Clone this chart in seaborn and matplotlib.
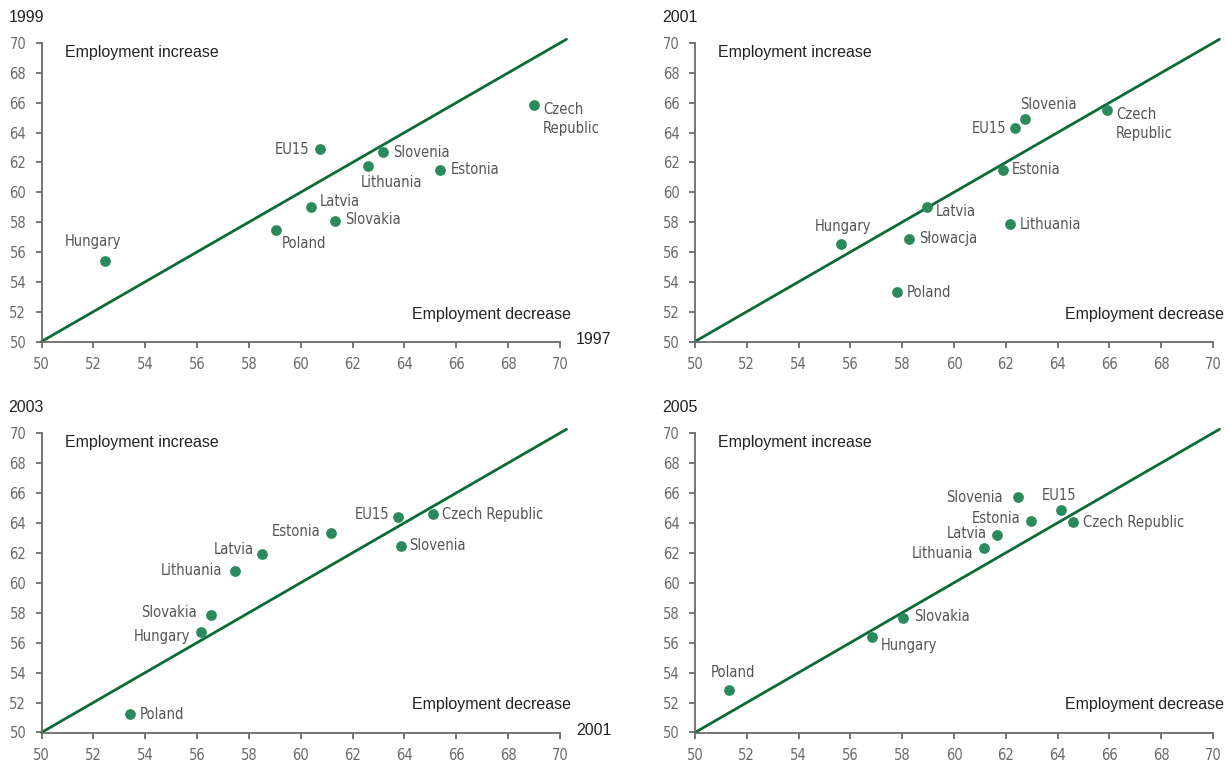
import numpy as np
import pandas as pd
import matplotlib
matplotlib.use('Agg')
import matplotlib.pyplot as plt
import seaborn as sns

# --- data ---
countries_99 = ['Hungary', 'Poland', 'Latvia', 'Slovakia', 'EU15', 'Lithuania', 'Slovenia', 'Estonia', 'Czech\nRepublic']
x_1997 = [52.46, 59.05, 60.38, 61.33, 60.73, 62.60, 63.16, 65.39, 68.99]
y_1999 = [55.42, 57.49, 59.00, 58.08, 62.87, 61.79, 62.69, 61.52, 65.84]

countries_01 = ['Hungary', 'Poland', 'Słowacja', 'Latvia', 'Estonia', 'Lithuania', 'EU15', 'Slovenia', 'Czech\nRepublic']
x_1999 = [55.63, 57.81, 58.26, 58.96, 61.88, 62.17, 62.36, 62.73, 65.90]
y_2001 = [56.52, 53.31, 56.88, 59.02, 61.50, 57.85, 64.33, 64.89, 65.50]

countries_03 = ['Poland', 'Hungary', 'Slovakia', 'Lithuania', 'Latvia', 'Estonia', 'EU15', 'Slovenia', 'Czech Republic']
x_2001 = [53.42, 56.15, 56.53, 57.48, 58.52, 61.15, 63.77, 63.85, 65.11]
y_2003 = [51.21, 56.72, 57.87, 60.81, 61.91, 63.30, 64.40, 62.47, 64.58]

countries_05 = ['Poland', 'Hungary', 'Slovakia', 'Lithuania', 'Latvia', 'Estonia', 'Slovenia', 'EU15', 'Czech Republic']
x_2003 = [51.31, 56.82, 58.02, 61.16, 61.65, 62.97, 62.48, 64.13, 64.60]
y_2005 = [52.85, 56.40, 57.66, 62.31, 63.21, 64.13, 65.71, 64.83, 64.07]

ticks = [50, 52, 54, 56, 58, 60, 62, 64, 66, 68, 70]
diag = [50, 70.25]

# label placement: (dx px, dy px, ha)
offs_99 = [(-12, 19, 'center'), (6, -14, 'left'), (9, 6, 'left'), (10, 1, 'left'), (-10, 0, 'right'),
           (-7, -17, 'left'), (10, 0, 'left'), (10, 0, 'left'), (9, -14, 'left')]
offs_01 = [(2, 18, 'center'), (9, 0, 'left'), (10, 0, 'left'), (9, -5, 'left'), (9, 0, 'left'),
           (10, 0, 'left'), (-9, -1, 'right'), (-5, 15, 'left'), (9, -14, 'left')]
offs_03 = [(10, 0, 'left'), (-11, -5, 'right'), (-14, 2, 'right'), (-13, 0, 'right'), (-9, 5, 'right'),
           (-10, 2, 'right'), (-9, 2, 'right'), (9, 0, 'left'), (9, 0, 'left')]
offs_05 = [(4, 17, 'center'), (9, -9, 'left'), (11, 1, 'left'), (-11, -5, 'right'), (-10, 1, 'right'),
           (-10, 2, 'right'), (-15, 0, 'right'), (-2, 15, 'center'), (10, -1, 'left')]

panels = [
    (countries_99, x_1997, y_1999, offs_99, '1999', '1997', (41.5, 43, 560, 341.5)),
    (countries_01, x_1999, y_2001, offs_01, '2001', None, (695, 43, 1213, 341.5)),
    (countries_03, x_2001, y_2003, offs_03, '2003', '2001', (41.5, 433, 560, 732.5)),
    (countries_05, x_2003, y_2005, offs_05, '2005', None, (695, 433, 1213, 732.5)),
]

sns.set_style('ticks')
plt.rcParams['font.family'] = ['Liberation Sans', 'DejaVu Sans']

DOT = '#2a8a5c'
LINE = '#0b6b36'
GREY = '#6a6a6a'
W, H = 1227, 762

fig = plt.figure(figsize=(W / 100, H / 100), dpi=100)

for names, xs, ys, offs, ylab, xlab, (l, t, r, b) in panels:
    ax = fig.add_axes([l / W, 1 - b / H, (r - l) / W, (b - t) / H])
    df = pd.DataFrame({'country': names, 'x': xs, 'y': ys})

    sns.lineplot(x=diag, y=diag, ax=ax, color=LINE, lw=2, clip_on=False)
    sns.scatterplot(data=df, x='x', y='y', ax=ax, color=DOT, s=60, linewidth=0, zorder=3)

    for (name, xv, yv), (dx, dy, ha) in zip(df[['country', 'x', 'y']].values, offs):
        ax.annotate(name, (xv, yv), xytext=(dx, dy), textcoords='offset pixels',
                    ha=ha, va='center', fontsize=10.5, color='#555555',
                    family='DejaVu Sans', fontstretch='condensed', linespacing=1.35)

    ax.set_xlim(50, 70)
    ax.set_ylim(50, 70)
    ax.set_xticks(ticks)
    ax.set_yticks(ticks)
    ax.set_xlabel('')
    ax.set_ylabel('')
    sns.despine(ax=ax)
    for side in ['left', 'bottom']:
        ax.spines[side].set_color(GREY)
        ax.spines[side].set_linewidth(1.3)
    ax.tick_params(length=4, width=1.3, color=GREY, labelcolor=GREY, pad=7, labelsize=10.5)
    for lab in ax.get_xticklabels() + ax.get_yticklabels():
        lab.set_family('DejaVu Sans')
        lab.set_fontstretch('condensed')

    ax.text(0.045, 0.968, 'Employment increase', transform=ax.transAxes,
            ha='left', va='center', fontsize=11.5, color='#222222')
    ax.text(0.715, 0.092, 'Employment decrease', transform=ax.transAxes,
            ha='left', va='center', fontsize=11.5, color='#222222')

    fig.text((l - 33) / W, 1 - (t - 26) / H, ylab, ha='left', va='center', fontsize=11.5, color='#222222')
    if xlab:
        fig.text((r + 16) / W, 1 - (b - 2) / H, xlab, ha='left', va='center', fontsize=11.5, color='#222222')

fig.savefig('out.png', dpi=100)
